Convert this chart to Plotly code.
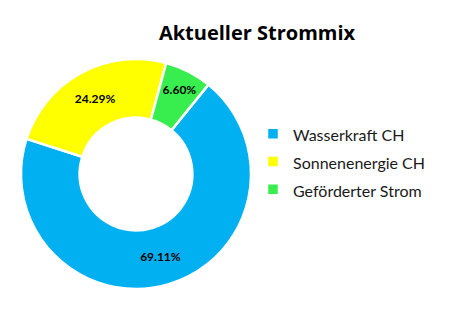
import plotly.graph_objects as go

labels = ["Wasserkraft CH", "Sonnenenergie CH", "Geförderter Strom"]
values = [69.11, 24.29, 6.60]
colors = ["#00B0F0", "#FFFF00", "#38EE4F"]

legend_labels = ['<span style="font-size:16px">%s</span>' % l for l in labels]

fig = go.Figure(go.Pie(
    labels=legend_labels,
    values=values,
    hole=0.49,
    sort=False,
    direction="clockwise",
    rotation=39,
    marker=dict(colors=colors, line=dict(color="white", width=2.5)),
    texttemplate="%{value:.2f}%",
    textposition="inside",
    insidetextorientation="horizontal",
    textfont=dict(family="Lato", size=12, color="black", weight="bold"),
    domain=dict(x=[(136 - 115) / 451, (136 + 115) / 451], y=[28 / 317, 258 / 317]),
    hoverinfo="label+percent",
))

fig.update_layout(
    width=451, height=317,
    margin=dict(l=0, r=0, t=0, b=0),
    paper_bgcolor="white", plot_bgcolor="white",
    title=dict(text="<b>Aktueller Strommix</b>", x=257 / 451, xanchor="center",
               y=1 - 33 / 317, yanchor="middle",
               font=dict(family="Open Sans", size=20, color="black")),
    legend=dict(x=253 / 451, y=(317 - 162) / 317, xanchor="left", yanchor="middle",
                font=dict(family="Lato", size=19, color="#1a1a1a"),
                tracegroupgap=0, itemwidth=30),
    showlegend=True,
)

fig.write_html("out.html")
